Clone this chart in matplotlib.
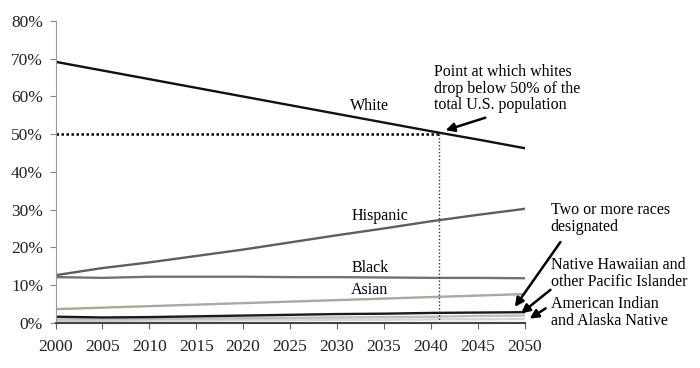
import matplotlib
matplotlib.use("Agg")
import matplotlib.pyplot as plt

# --- Datos (porcentaje de la población de EE.UU.) ---
years = [2000, 2005, 2010, 2015, 2020, 2025, 2030, 2035, 2040, 2045, 2050]
white    = [69.2, 66.9, 64.6, 62.3, 60.0, 57.7, 55.4, 53.1, 50.8, 48.6, 46.3]
hispanic = [12.6, 14.5, 16.0, 17.7, 19.4, 21.3, 23.2, 25.0, 26.9, 28.6, 30.2]
black    = [12.1, 11.9, 12.2, 12.2, 12.2, 12.1, 12.1, 12.0, 11.9, 11.9, 11.8]
asian    = [3.6, 4.0, 4.4, 4.8, 5.2, 5.6, 6.0, 6.4, 6.8, 7.2, 7.6]
two_more = [1.6, 1.4, 1.5, 1.7, 1.9, 2.1, 2.3, 2.4, 2.6, 2.7, 2.8]
nhpi     = [0.9, 0.9, 1.0, 1.1, 1.2, 1.3, 1.4, 1.5, 1.6, 1.8, 1.9]
aian     = [0.5, 0.5, 0.6, 0.6, 0.7, 0.7, 0.8, 0.8, 0.9, 0.9, 1.0]

cross_year = 2040.9
yticks = [0, 10, 20, 30, 40, 50, 60, 70, 80]

plt.rcParams['font.family'] = ['Liberation Serif', 'DejaVu Serif']

fig = plt.figure(figsize=(7, 3.68), dpi=100)
ax = fig.add_axes([0.0793, 0.123, 0.6700, 0.8197])

# --- Líneas ---
ax.plot(years, aian, color='#d6d6d6', lw=1.7)
ax.plot(years, nhpi, color='#bdbdbd', lw=1.7)
ax.plot(years, two_more, color='#1a1a1a', lw=1.7)
ax.plot(years, asian, color='#a9aa9e', lw=1.7)
ax.plot(years, black, color='#727272', lw=1.7)
ax.plot(years, hispanic, color='#5e5e5e', lw=1.7)
ax.plot(years, white, color='#111111', lw=1.7)

# --- Líneas punteadas en 50% ---
ax.plot([2000, cross_year], [50, 50], color='black', lw=1.8, ls=(0, (1, 1)))
ax.plot([cross_year, cross_year], [0, 50], color='#333333', lw=1.0, ls=(0, (1, 1.5)))

# --- Ejes ---
ax.set_xlim(2000, 2050)
ax.set_ylim(0, 80)
ax.set_xticks(years)
ax.set_xticklabels([str(y) for y in years])
ax.set_yticks(yticks)
ax.set_yticklabels([f"{v}%" for v in yticks])
ax.tick_params(axis='both', labelsize=12.5, colors='#222222', length=4, width=0.8)
ax.tick_params(axis='x', pad=8, color='#666666')
ax.tick_params(axis='y', pad=5, color='#888888')
for s in ['top', 'right']:
    ax.spines[s].set_visible(False)
ax.spines['left'].set_color('#999999')
ax.spines['bottom'].set_color('#444444')
ax.spines['bottom'].set_linewidth(1.5)

# --- Etiquetas de series ---
fs = 11.5
ax.text(2033.5, 57.6, "White", fontsize=fs, ha='center', va='center')
ax.text(2034.6, 28.3, "Hispanic", fontsize=fs, ha='center', va='center')
ax.text(2033.5, 14.5, "Black", fontsize=fs, ha='center', va='center')
ax.text(2033.5, 8.6, "Asian", fontsize=fs, ha='center', va='center')

# --- Anotaciones ---
arrow = dict(arrowstyle='-|>', color='black', lw=1.8, mutation_scale=13)
ax.text(2040.3, 68.6, "Point at which whites\ndrop below 50% of the\ntotal U.S. population",
        fontsize=fs, ha='left', va='top', linespacing=1.05, clip_on=False)
ax.annotate("", xy=(2041.3, 50.8), xytext=(2046.1, 54.6),
            arrowprops=arrow, annotation_clip=False)

ax.text(2052.8, 32.0, "Two or more races\ndesignated", fontsize=fs,
        ha='left', va='top', linespacing=1.05, clip_on=False)
ax.annotate("", xy=(2048.8, 3.6), xytext=(2054.0, 22.0),
            arrowprops=arrow, annotation_clip=False)

ax.text(2052.8, 17.4, "Native Hawaiian and\nother Pacific Islander", fontsize=fs,
        ha='left', va='top', linespacing=1.05, clip_on=False)
ax.annotate("", xy=(2049.4, 2.0), xytext=(2053.0, 9.2),
            arrowprops=arrow, annotation_clip=False)

ax.text(2052.8, 7.0, "American Indian\nand Alaska Native", fontsize=fs,
        ha='left', va='top', linespacing=1.05, clip_on=False)
ax.annotate("", xy=(2050.3, 0.7), xytext=(2052.5, 4.2),
            arrowprops=arrow, annotation_clip=False)

fig.savefig("out.png", dpi=100)
